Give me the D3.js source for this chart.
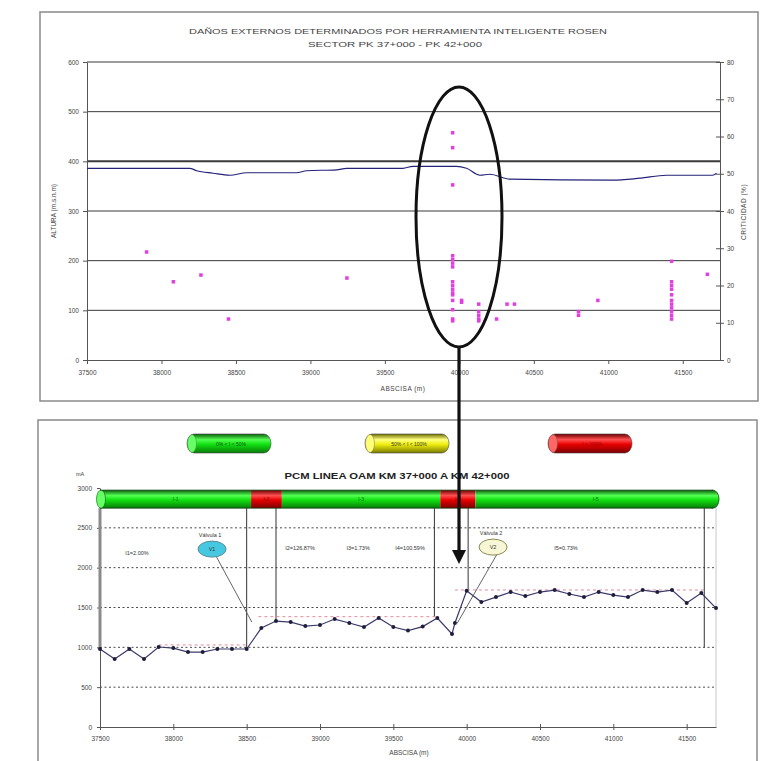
<!DOCTYPE html>
<html>
<head>
<meta charset="utf-8">
<script src="https://cdn.jsdelivr.net/npm/d3@7"></script>
<style>
  body { margin: 0; background: #fff; font-family: "Liberation Sans", Arial, sans-serif; }
</style>
</head>
<body>
<svg id="chart" width="764" height="761"></svg>
<script>
// ---- top chart data (Rosen ILI) ----
const altAbscisa = [37500, 38190, 38236, 38346, 38460, 38572, 38907, 38974, 39176, 39243, 39578, 39621, 39688, 39981, 40048, 40138, 40205, 40339, 41030, 41211, 41391, 41700, 41726];
const altValue   = [386, 386, 381, 376, 372, 377, 377, 381, 383, 386, 386, 386, 390, 390, 386, 372, 374, 364, 362, 366, 372, 372, 376];

const critAbscisa = [37900, 38080, 38265, 38450, 39245,
  39955, 39955, 39955, 39955, 39955, 39955, 39955, 39955, 39955, 39955, 39955, 39955, 39955, 39955, 39955, 39955,
  40015, 40015,
  40130, 40130, 40130, 40130, 40130,
  40250, 40320, 40370, 40800, 40800, 40930,
  41425, 41425, 41425, 41425, 41425, 41425, 41425, 41425, 41425, 41425, 41425,
  41665];
const critValue = [29, 21, 22.8, 11, 22,
  61, 57, 47, 28, 27, 26, 25, 21, 20, 19, 18, 17.5, 16, 13.5, 11, 10.5,
  16, 15.5,
  15, 13, 12, 11, 10.5,
  11, 15, 15, 13, 12, 16,
  26.5, 21, 20, 19, 17.5, 16, 15, 14, 13, 12, 11,
  23];

const topXTicks = [37500, 38000, 38500, 39000, 39500, 40000, 40500, 41000, 41500];
const topLeftTicks = [0, 100, 200, 300, 400, 500, 600];
const topRightTicks = [0, 10, 20, 30, 40, 50, 60, 70, 80];

// ---- bottom chart data (PCM) ----
const pcmAbscisa = [37500, 37600, 37700, 37800, 37900, 38000, 38100, 38200, 38300, 38400, 38500,
  38600, 38700, 38800, 38900, 39000, 39100, 39200, 39300, 39400, 39500, 39600, 39700, 39800, 39900, 39920,
  40000, 40100, 40200, 40300, 40400, 40500, 40600, 40700, 40800, 40900, 41000, 41100, 41200, 41300, 41400, 41500, 41600, 41700];
const pcmValue = [979, 853, 979, 853, 1004, 991, 941, 941, 979, 979, 979,
  1242, 1330, 1317, 1267, 1280, 1355, 1305, 1255, 1368, 1255, 1210, 1260, 1368, 1167, 1305,
  1710, 1568, 1631, 1694, 1644, 1694, 1719, 1669, 1631, 1694, 1656, 1631, 1719, 1694, 1719, 1556, 1681, 1493];

const segStart = [37500, 38530, 38740, 39820, 40060];
const segEnd   = [38530, 38740, 39820, 40060, 41700];
const segColor = ["green", "red", "green", "red", "green"];
const segName  = ["I-1", "I-2", "I-3", "I-4", "I-5"];

const segLabelText = ["I1=2.00%", "I2=126.87%", "I3=1.73%", "I4=100.59%", "I5=0.73%"];
const segLabelX    = [37752, 38864, 39260, 39614, 40677];
const segLabelY    = [2158, 2221, 2221, 2221, 2221];

const cutAbscisa = [38500, 38700, 39780, 40010, 41620];
const cutBottom  = [1000, 1340, 1380, 1720, 1000];

const avgStart = [37900, 38580, 39920];
const avgEnd   = [38500, 39800, 41620];
const avgValue = [1030, 1385, 1720];

const bottomXTicks = [37500, 38000, 38500, 39000, 39500, 40000, 40500, 41000, 41500];
const bottomYTicks = [0, 500, 1000, 1500, 2000, 2500, 3000];

const legendLabels = ["0% < I < 50%", "50% < I < 100%", "I > 100%"];
const legendColors = ["green", "yellow", "red"];

const svg = d3.select("#chart");
const defs = svg.append("defs");

// cylinder gradients
const gradStops = {
  green:  ["#0b5e0b", "#52ff52", "#10e010", "#0a7a0a"],
  red:    ["#6e0000", "#ff5050", "#e80000", "#7a0000"],
  yellow: ["#6e6e00", "#ffff80", "#eeee10", "#7a7a00"],
};
Object.entries(gradStops).forEach(([k, c]) => {
  const g = defs.append("linearGradient").attr("id", "cyl-" + k)
    .attr("x1", 0).attr("y1", 0).attr("x2", 0).attr("y2", 1);
  [0, 0.3, 0.55, 1].forEach((o, i) => g.append("stop").attr("offset", o).attr("stop-color", c[i]));
});

const capColor = { green: "#66ff66", red: "#ff6666", yellow: "#ffff77" };

// ================= TOP PANEL =================
svg.append("rect").attr("x", 40).attr("y", 12).attr("width", 718).attr("height", 389)
  .attr("fill", "#fff").attr("stroke", "#8a8a8a").attr("stroke-width", 1.5);

const xT = d3.scaleLinear().domain([37500, 41750]).range([87, 720]);
const yL = d3.scaleLinear().domain([0, 600]).range([360, 62]);
const yR = d3.scaleLinear().domain([0, 80]).range([360, 62]);

const topG = svg.append("g");

// grid lines
topG.append("g").selectAll("line").data(topLeftTicks.filter(d => d > 0)).enter().append("line")
  .attr("x1", xT(37500)).attr("x2", xT(41750))
  .attr("y1", d => yL(d)).attr("y2", d => yL(d))
  .attr("stroke", "#3a3a3a").attr("stroke-width", d => d === 400 ? 2 : 1);

// axes
const axStyle = (sel) => {
  sel.selectAll("path").attr("stroke", "#555");
  sel.selectAll("line").attr("stroke", "#555");
  sel.selectAll("text").style("font-size", "6.5px").style("fill", "#444")
    .style("font-family", "Liberation Sans, Arial, sans-serif");
};
topG.append("g").attr("transform", `translate(0,${yL(0)})`)
  .call(d3.axisBottom(xT).tickValues(topXTicks).tickFormat(d3.format("d")).tickSize(4).tickPadding(6).tickSizeOuter(0))
  .call(axStyle);
topG.append("g").attr("transform", `translate(${xT(37500)},0)`)
  .call(d3.axisLeft(yL).tickValues(topLeftTicks).tickFormat(d3.format("d")).tickSize(4).tickPadding(4).tickSizeOuter(0))
  .call(axStyle);
topG.append("g").attr("transform", `translate(${xT(41750)},0)`)
  .call(d3.axisRight(yR).tickValues(topRightTicks).tickFormat(d3.format("d")).tickSize(4).tickPadding(3).tickSizeOuter(0))
  .call(axStyle)
  .call(g => g.selectAll(".tick line").attr("x1", -4));

// altitude line
const altData = altAbscisa.map((a, i) => ({ a, v: altValue[i] }));
topG.append("path").datum(altData)
  .attr("fill", "none").attr("stroke", "#23237a").attr("stroke-width", 1.2)
  .attr("d", d3.line().x(d => xT(d.a)).y(d => yL(d.v)).curve(d3.curveMonotoneX));

// criticality points
topG.append("g").selectAll("rect").data(critAbscisa.map((a, i) => ({ a, v: critValue[i] }))).enter()
  .append("rect")
  .attr("x", d => xT(d.a) - 1.75).attr("y", d => yR(d.v) - 1.75)
  .attr("width", 3.5).attr("height", 3.5)
  .attr("fill", "#e040e0");

// titles
topG.append("text").attr("x", 398).attr("y", 34).attr("text-anchor", "middle")
  .attr("textLength", 418).attr("lengthAdjust", "spacingAndGlyphs")
  .style("font-size", "7.5px").style("fill", "#444")
  .text("DAÑOS EXTERNOS DETERMINADOS POR HERRAMIENTA INTELIGENTE ROSEN");
topG.append("text").attr("x", 395).attr("y", 47).attr("text-anchor", "middle")
  .attr("textLength", 174).attr("lengthAdjust", "spacingAndGlyphs")
  .style("font-size", "7.5px").style("fill", "#444")
  .text("SECTOR PK 37+000 - PK 42+000");
topG.append("text").attr("x", 403).attr("y", 391).attr("text-anchor", "middle")
  .style("font-size", "6.5px").style("fill", "#444").style("letter-spacing", "0.5px")
  .text("ABSCISA (m)");
topG.append("text").attr("transform", "translate(56,211) rotate(-90)").attr("text-anchor", "middle")
  .style("font-size", "6.5px").style("fill", "#444")
  .text("ALTURA (m.s.n.m)");
topG.append("text").attr("transform", "translate(746,212) rotate(-90)").attr("text-anchor", "middle")
  .style("font-size", "6.5px").style("fill", "#444").style("letter-spacing", "0.5px")
  .text("CRITICIDAD (%)");

// ================= BOTTOM PANEL =================
svg.append("rect").attr("x", 38).attr("y", 420).attr("width", 719).attr("height", 360)
  .attr("fill", "#fff").attr("stroke", "#8a8a8a").attr("stroke-width", 1.5);

const xB = d3.scaleLinear().domain([37500, 41700]).range([100, 716]);
const yB = d3.scaleLinear().domain([0, 3000]).range([727, 488]);

const botG = svg.append("g");

// plot area right border
botG.append("line").attr("x1", xB(41700)).attr("x2", xB(41700)).attr("y1", yB(2900)).attr("y2", yB(0))
  .attr("stroke", "#c8c8c8").attr("stroke-width", 1);

// dashed grid
botG.append("g").selectAll("line").data(bottomYTicks.filter(d => d > 0 && d < 3000)).enter().append("line")
  .attr("x1", xB(37500)).attr("x2", xB(41700))
  .attr("y1", d => yB(d)).attr("y2", d => yB(d))
  .attr("stroke", "#4a4a4a").attr("stroke-width", 1).attr("stroke-dasharray", "2,2.5");

// axes
botG.append("g").attr("transform", `translate(0,${yB(0)})`)
  .call(d3.axisBottom(xB).tickValues(bottomXTicks).tickFormat(d3.format("d")).tickSize(3).tickPadding(6).tickSizeOuter(0))
  .call(axStyle)
  .call(g => g.selectAll(".tick line").attr("y1", -3));
botG.append("g").attr("transform", `translate(${xB(37500)},0)`)
  .call(d3.axisLeft(yB).tickValues(bottomYTicks).tickFormat(d3.format("d")).tickSize(3).tickPadding(5).tickSizeOuter(0))
  .call(axStyle);

// thick start marker
botG.append("line").attr("x1", xB(37500)).attr("x2", xB(37500))
  .attr("y1", yB(2860) + 9).attr("y2", yB(1000))
  .attr("stroke", "#8a8a8a").attr("stroke-width", 3);

// cut lines between tramos
botG.append("g").selectAll("line").data(cutAbscisa.map((a, i) => ({ a, b: cutBottom[i] }))).enter().append("line")
  .attr("x1", d => xB(d.a)).attr("x2", d => xB(d.a))
  .attr("y1", yB(2860) + 9).attr("y2", d => yB(d.b))
  .attr("stroke", "#333").attr("stroke-width", 1);

// segment averages (pink dashed)
botG.append("g").selectAll("line").data(avgValue.map((v, i) => ({ s: avgStart[i], e: avgEnd[i], v }))).enter().append("line")
  .attr("x1", d => xB(d.s)).attr("x2", d => xB(d.e))
  .attr("y1", d => yB(d.v)).attr("y2", d => yB(d.v))
  .attr("stroke", "#e58a9a").attr("stroke-width", 1).attr("stroke-dasharray", "3,3");

// PCM line + markers
const pcmData = pcmAbscisa.map((a, i) => ({ a, v: pcmValue[i] }));
botG.append("path").datum(pcmData)
  .attr("fill", "none").attr("stroke", "#3b3a6a").attr("stroke-width", 1.2)
  .attr("d", d3.line().x(d => xB(d.a)).y(d => yB(d.v)));
botG.append("g").selectAll("circle").data(pcmData).enter().append("circle")
  .attr("cx", d => xB(d.a)).attr("cy", d => yB(d.v)).attr("r", 2)
  .attr("fill", "#1e1e3c");

// segment text labels
botG.append("g").selectAll("text").data(segLabelText).enter().append("text")
  .attr("x", (d, i) => xB(segLabelX[i])).attr("y", (d, i) => yB(segLabelY[i]))
  .attr("text-anchor", "middle")
  .style("font-size", "5.5px").style("fill", "#333")
  .text(d => d);

// pipe bar (cylinder)
const pipeY = yB(2860);
const pipeH = 18;
botG.append("ellipse").attr("cx", xB(41700) - 3).attr("cy", pipeY).attr("rx", 6).attr("ry", pipeH / 2)
  .attr("fill", "url(#cyl-green)").attr("stroke", "#0a4a0a").attr("stroke-width", 0.8);
botG.append("g").selectAll("rect").data(segStart).enter().append("rect")
  .attr("x", (d, i) => xB(d)).attr("y", pipeY - pipeH / 2)
  .attr("width", (d, i) => xB(segEnd[i]) - xB(d) - 3 * (i === 4))
  .attr("height", pipeH)
  .attr("fill", (d, i) => `url(#cyl-${segColor[i]})`);
botG.append("line").attr("x1", xB(37500)).attr("x2", xB(41700) - 3)
  .attr("y1", pipeY - pipeH / 2).attr("y2", pipeY - pipeH / 2).attr("stroke", "#0a3a0a").attr("stroke-width", 0.8);
botG.append("line").attr("x1", xB(37500)).attr("x2", xB(41700) - 3)
  .attr("y1", pipeY + pipeH / 2).attr("y2", pipeY + pipeH / 2).attr("stroke", "#0a3a0a").attr("stroke-width", 0.8);
botG.append("ellipse").attr("cx", xB(37500) + 1).attr("cy", pipeY).attr("rx", 4.5).attr("ry", pipeH / 2)
  .attr("fill", capColor.green).attr("stroke", "#0a5a0a").attr("stroke-width", 0.6);
botG.append("g").selectAll("text").data(segName).enter().append("text")
  .attr("x", (d, i) => xB((segStart[i] + segEnd[i]) / 2)).attr("y", pipeY + 2)
  .attr("text-anchor", "middle")
  .style("font-size", "5px").style("fill", (d, i) => segColor[i] === "red" ? "#7a0000" : "#0a6a0a")
  .text(d => d);

// valve callouts
const callouts = [
  { name: "Válvula 1", tag: "V1", a: 38264, v: 2233, ta: 38535, tv: 1317, fill: "#46c8e0", stroke: "#5a8a9a" },
  { name: "Válvula 2", tag: "V2", a: 40180, v: 2258, ta: 39935, tv: 1300, fill: "#f7f7d6", stroke: "#8a8a50" },
];
callouts.forEach(c => {
  botG.append("line").attr("x1", xB(c.a) + 4).attr("y1", yB(c.v) + 7)
    .attr("x2", xB(c.ta)).attr("y2", yB(c.tv))
    .attr("stroke", "#555").attr("stroke-width", 0.9);
  botG.append("ellipse").attr("cx", xB(c.a)).attr("cy", yB(c.v)).attr("rx", 14).attr("ry", 8)
    .attr("fill", c.fill).attr("stroke", c.stroke).attr("stroke-width", 1);
  botG.append("text").attr("x", xB(c.a)).attr("y", yB(c.v) + 2).attr("text-anchor", "middle")
    .style("font-size", "5.5px").style("fill", "#333").text(c.tag);
  botG.append("text").attr("x", xB(c.a) - 2).attr("y", yB(c.v) - 12).attr("text-anchor", "middle")
    .style("font-size", "5.5px").style("fill", "#333").text(c.name);
});

// legend capsules
const legendX = [187, 365, 548];
const legendText = { green: "#145214", yellow: "#333", red: "#a00000" };
legendLabels.forEach((lab, i) => {
  const g = botG.append("g").attr("transform", `translate(${legendX[i]},434)`);
  g.append("rect").attr("width", 84).attr("height", 19).attr("rx", 7).attr("ry", 9.5)
    .attr("fill", `url(#cyl-${legendColors[i]})`).attr("stroke", "#444").attr("stroke-width", 0.6);
  g.append("ellipse").attr("cx", 5).attr("cy", 9.5).attr("rx", 4.5).attr("ry", 9)
    .attr("fill", capColor[legendColors[i]]).attr("stroke", "#555").attr("stroke-width", 0.4);
  g.append("text").attr("x", 44).attr("y", 11.5).attr("text-anchor", "middle")
    .style("font-size", "5px").style("fill", legendText[legendColors[i]])
    .text(lab);
});

// bottom titles
botG.append("text").attr("x", 397).attr("y", 479).attr("text-anchor", "middle")
  .attr("textLength", 225).attr("lengthAdjust", "spacingAndGlyphs")
  .style("font-size", "9px").style("font-weight", "bold").style("fill", "#222")
  .text("PCM LINEA OAM KM 37+000 A KM 42+000");
botG.append("text").attr("x", 80).attr("y", 476).attr("text-anchor", "middle")
  .style("font-size", "5.5px").style("fill", "#444").text("mA");
botG.append("text").attr("x", 409).attr("y", 755).attr("text-anchor", "middle")
  .style("font-size", "6.5px").style("fill", "#444")
  .text("ABSCISA (m)");

// ================= ANNOTATION (ellipse + arrow) =================
const ann = svg.append("g");
ann.append("ellipse").attr("cx", 459).attr("cy", 217).attr("rx", 43).attr("ry", 130)
  .attr("fill", "none").attr("stroke", "#111").attr("stroke-width", 3);
ann.append("line").attr("x1", 459).attr("y1", 347).attr("x2", 459).attr("y2", 551)
  .attr("stroke", "#111").attr("stroke-width", 3.2);
ann.append("path").attr("d", "M452,550 L466,550 L459,564 Z").attr("fill", "#111");
</script>
</body>
</html>
